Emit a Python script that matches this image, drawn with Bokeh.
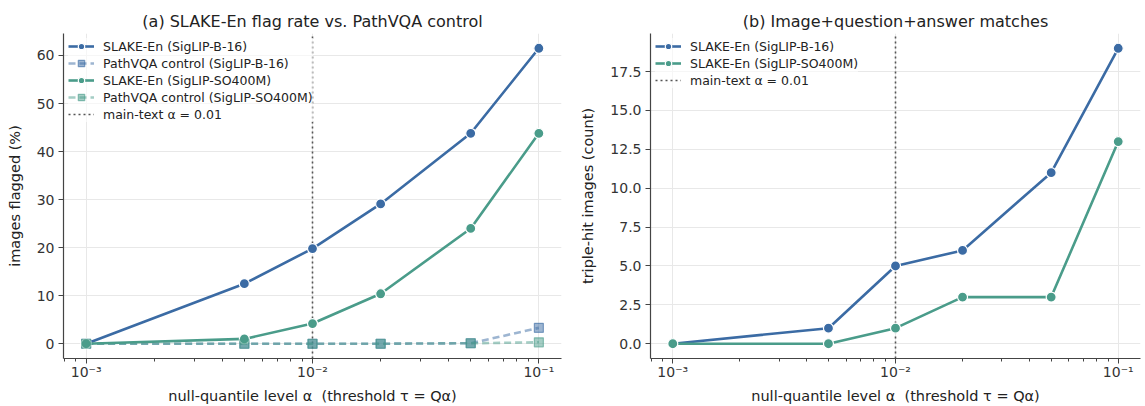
from bokeh.plotting import figure
from bokeh.layouts import row
from bokeh.models import (FixedTicker, Legend, LegendItem, Range1d,
                          SingleIntervalTicker, NumeralTickFormatter)
from bokeh.embed import file_html
from bokeh.resources import INLINE

# ---------------- data ----------------
alpha_levels = [0.001, 0.005, 0.01, 0.02, 0.05, 0.1]
slake_b16_pct = [0.0, 12.5, 19.8, 29.1, 43.8, 61.5]
pathvqa_b16_pct = [0.0, 0.0, 0.0, 0.0, 0.1, 3.3]
slake_so400m_pct = [0.0, 1.0, 4.2, 10.4, 24.0, 43.8]
pathvqa_so400m_pct = [0.0, 0.0, 0.0, 0.0, 0.1, 0.3]
triple_b16 = [0, 1, 5, 6, 11, 19]
triple_so400m = [0, 0, 1, 3, 3, 13]
main_alpha = 0.01
x_major_ticks = [0.001, 0.01, 0.1]
x_tick_labels = ["10⁻³", "10⁻²", "10⁻¹"]

BLUE = "#3b6ba4"
GREEN = "#4a9c8a"
FONT = "DejaVu Sans"
TXT = "#333333"
FRAME_W = 498
H = 406


def make_fig(title, ylabel, ymax, yint, yfmt, left_border, right_border):
    pad = 0.05 * ymax
    p = figure(width=left_border + FRAME_W + right_border, height=H,
               x_axis_type="log",
               x_range=Range1d(10 ** -3.1, 10 ** -0.9),
               y_range=Range1d(-pad, ymax + pad),
               output_backend="svg", toolbar_location=None,
               min_border_left=left_border, min_border_right=right_border,
               min_border_top=33, min_border_bottom=36)
    p.outline_line_color = None
    p.background_fill_color = "white"
    p.title.text = title
    p.title.text_font = FONT
    p.title.text_font_size = "16px"
    p.title.text_font_style = "normal"
    p.title.text_color = "#222222"
    p.title.align = "center"
    p.title.standoff = 6

    minors = []
    for base in (0.0001, 0.001, 0.01):
        for m in range(2, 10):
            minors.append(m * base)
    p.xaxis.ticker = FixedTicker(ticks=x_major_ticks, minor_ticks=minors)
    p.xaxis.major_label_overrides = {t: l for t, l in zip(x_major_ticks, x_tick_labels)}
    p.yaxis.ticker = SingleIntervalTicker(interval=yint, num_minor_ticks=0)
    p.yaxis.formatter = NumeralTickFormatter(format=yfmt)

    p.xaxis.axis_label = "null-quantile level α\u00a0\u00a0(threshold τ = Qα)"
    p.yaxis.axis_label = ylabel
    for ax in (p.xaxis, p.yaxis):
        ax.axis_label_text_font = FONT
        ax.axis_label_text_font_size = "14.5px"
        ax.axis_label_text_font_style = "normal"
        ax.axis_label_text_color = "#222222"
        ax.major_label_text_font = FONT
        ax.major_label_text_font_size = "14px"
        ax.major_label_text_color = TXT
        ax.axis_line_color = "#444444"
        ax.axis_line_width = 1.2
        ax.major_tick_line_color = "#444444"
        ax.minor_tick_line_color = "#444444"
        ax.major_tick_in = 0
        ax.major_tick_out = 5
        ax.minor_tick_in = 0
        ax.minor_tick_out = 3
    p.xaxis.major_label_standoff = 0
    p.xaxis.axis_label_standoff = 5
    p.yaxis.major_label_standoff = 4
    p.yaxis.axis_label_standoff = 11
    p.grid.grid_line_color = "#e8e8e8"
    p.grid.grid_line_width = 1
    return p


def add_series(p, y, color, marker, dashed=False, faded=False):
    alpha = 0.5 if faded else 1.0
    lr = p.line(alpha_levels, y, line_color=color, line_width=2.6,
                line_alpha=alpha, line_dash="7 4" if dashed else "solid")
    if marker == "circle":
        sr = p.scatter(alpha_levels, y, marker="circle", size=10,
                       fill_color=color, line_color="white", line_width=1.2)
    else:
        sr = p.scatter(alpha_levels, y, marker="square", size=9,
                       fill_color=color, fill_alpha=0.5,
                       line_color=color, line_alpha=0.6, line_width=1.2)
    return [lr, sr]


def add_alpha_line(p):
    r = p.line([main_alpha, main_alpha], [p.y_range.start, p.y_range.end],
               line_color="#555555", line_dash="2 3", line_width=1.6)
    return [r]


def add_legend(p, items):
    leg = Legend(items=[LegendItem(label=l, renderers=r) for l, r in items],
                 location="top_left")
    leg.label_text_font = FONT
    leg.label_text_font_size = "12.5px"
    leg.label_text_color = "#222222"
    leg.glyph_width = 26
    leg.glyph_height = 16
    leg.label_height = 16
    leg.label_standoff = 9
    leg.spacing = 1
    leg.padding = 3
    leg.margin = 5
    leg.border_line_color = None
    leg.background_fill_color = "white"
    leg.background_fill_alpha = 0.6
    p.add_layout(leg)


# ---------------- panel (a) ----------------
ymax_a = max(slake_b16_pct + slake_so400m_pct + pathvqa_b16_pct + pathvqa_so400m_pct)
p1 = make_fig("(a) SLAKE-En flag rate vs. PathVQA control", "images flagged (%)",
              ymax_a, 10, "0", 63, 16)
r_al = add_alpha_line(p1)
r_ab = add_series(p1, slake_b16_pct, BLUE, "circle")
r_pb = add_series(p1, pathvqa_b16_pct, BLUE, "square", dashed=True, faded=True)
r_as = add_series(p1, slake_so400m_pct, GREEN, "circle")
r_ps = add_series(p1, pathvqa_so400m_pct, GREEN, "square", dashed=True, faded=True)
add_legend(p1, [("SLAKE-En (SigLIP-B-16)", r_ab),
                ("PathVQA control (SigLIP-B-16)", r_pb),
                ("SLAKE-En (SigLIP-SO400M)", r_as),
                ("PathVQA control (SigLIP-SO400M)", r_ps),
                ("main-text α = 0.01", r_al)])

# ---------------- panel (b) ----------------
ymax_b = max(triple_b16 + triple_so400m)
p2 = make_fig("(b) Image+question+answer matches", "triple-hit images (count)",
              ymax_b, 2.5, "0.0", 65, 4)
r_al2 = add_alpha_line(p2)
r_tb = add_series(p2, triple_b16, BLUE, "circle")
r_ts = add_series(p2, triple_so400m, GREEN, "circle")
add_legend(p2, [("SLAKE-En (SigLIP-B-16)", r_tb),
                ("SLAKE-En (SigLIP-SO400M)", r_ts),
                ("main-text α = 0.01", r_al2)])

layout = row(p1, p2)
open("out.html", "w").write(file_html(layout, INLINE))
